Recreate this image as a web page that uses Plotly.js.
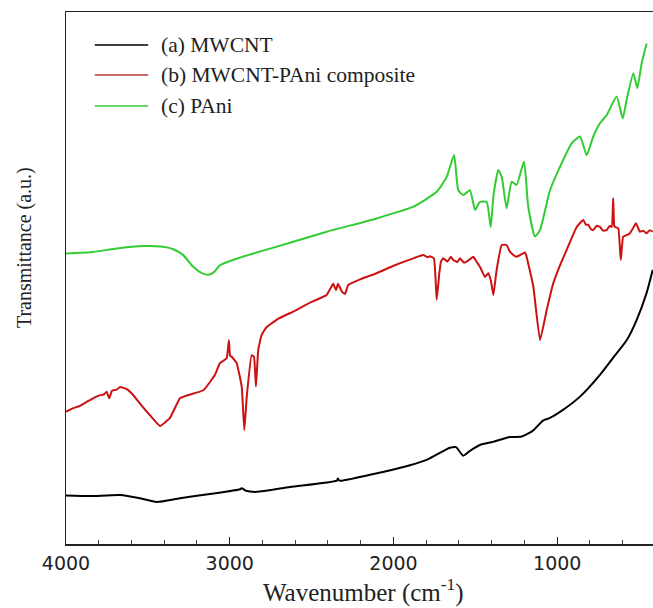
<!DOCTYPE html>
<html>
<head>
<meta charset="utf-8">
<script src="https://cdn.plot.ly/plotly-3.0.1.min.js"></script>
<style>html,body{margin:0;padding:0;background:#fff;}#chart{width:653px;height:608px;}</style>
</head>
<body>
<div id="chart"></div>
<script>
// Wavenumber (cm^-1) and transmittance (a.u.)
const mwcntX = [4000,3853,3670,3548,3446,3304,3121,2937,2927,2901,2835,2632,2347,2339,2330,2143,1899,1797,1655,1618,1574,1533,1472,1392,1289,1217,1148,1087,1044,965,861,739,659,576,515,454,417];
const mwcntY = [9.1,9.0,9.2,8.6,7.9,8.6,9.4,10.3,10.5,10.0,9.8,10.7,11.9,12.3,11.9,13.0,14.8,15.8,18.1,18.2,16.6,17.5,18.6,19.2,20.1,20.2,21.3,23.2,23.7,25.2,27.7,31.8,35.0,38.3,42.1,47.2,51.5];

const compX = [4000,3950,3920,3874,3840,3800,3770,3751,3736,3719,3690,3670,3629,3590,3548,3487,3426,3365,3304,3263,3161,3090,3060,3019,3005,2998,2988,2958,2927,2911,2896,2866,2852,2840,2826,2805,2774,2700,2612,2500,2408,2368,2351,2339,2314,2296,2276,2200,2103,2000,1879,1818,1790,1777,1753,1736,1720,1710,1696,1670,1650,1635,1610,1594,1570,1553,1530,1513,1495,1472,1441,1421,1405,1390,1370,1339,1309,1290,1278,1250,1227,1197,1187,1146,1105,1064,1024,980,942,881,841,825,810,795,780,760,739,720,698,680,667,658,652,647,627,612,597,580,556,540,519,495,475,454,435,417];
const compY = [24.9,25.6,25.9,26.7,27.3,27.9,28.1,28.6,27.4,28.8,29.0,29.5,29.1,28.0,26.4,24.2,22.2,23.7,27.4,27.9,28.9,31.8,34.0,34.9,38.3,35.4,35.2,34.0,29.6,21.4,27.7,35.5,35.2,29.6,36.5,39.3,40.8,42.4,43.7,45.5,46.8,48.9,47.7,48.9,47.4,47.0,48.7,49.8,50.9,52.3,53.7,54.3,53.9,54.1,53.7,45.9,50.9,53.1,53.7,53.1,54.0,53.4,53.0,53.7,52.9,53.1,53.6,54.0,53.2,52.1,50.2,50.9,49.5,46.8,51.5,56.2,56.2,55.0,54.6,54.0,54.3,54.8,54.0,48.4,38.3,44.0,49.0,52.6,55.3,59.6,60.9,60.0,60.0,59.2,59.0,59.8,59.6,58.9,59.0,59.8,59.6,65.0,59.8,59.6,59.3,53.4,57.8,58.0,58.4,59.2,60.3,58.7,58.9,58.4,59.0,58.7];

const paniX = [4000,3833,3700,3528,3420,3345,3284,3223,3170,3131,3096,3060,2960,2856,2612,2408,2103,1879,1736,1675,1630,1604,1574,1533,1502,1472,1431,1406,1390,1360,1339,1309,1278,1248,1203,1177,1136,1105,1044,983,912,861,820,780,739,698,637,600,576,535,511,484,454];
const paniY = [54.6,54.9,55.5,56.0,55.9,55.4,54.3,52.1,50.9,50.6,51.1,52.4,53.6,54.6,56.8,58.7,61.2,63.4,66.2,69.0,73.1,66.5,65.6,66.5,62.8,64.3,64.3,59.6,65.3,70.3,69.0,63.1,68.1,67.5,71.9,63.4,57.8,59.0,66.5,70.9,75.3,76.6,73.1,76.6,79.1,80.6,84.1,80.0,83.5,88.5,85.7,90.4,94.1];

const seriesNames = ["(a) MWCNT", "(b) MWCNT-PAni composite", "(c) PAni"];
const seriesColors = ["#000000", "#cc1111", "#33cc33"];
const tickVals = [4000, 3000, 2000, 1000];
const tickText = ["4000", "3000", "2000", "1000"];

const traces = [
  {x: mwcntX, y: mwcntY, name: seriesNames[0], type: "scatter", mode: "lines", line: {color: seriesColors[0], width: 2, shape: "spline", smoothing: 0.6}},
  {x: compX, y: compY, name: seriesNames[1], type: "scatter", mode: "lines", line: {color: seriesColors[1], width: 2, shape: "spline", smoothing: 0.35}},
  {x: paniX, y: paniY, name: seriesNames[2], type: "scatter", mode: "lines", line: {color: seriesColors[2], width: 2, shape: "spline", smoothing: 0.5}}
];

const legY = [0.938, 0.8816, 0.8233];
const shapes = [];
const annotations = [];
seriesNames.forEach((n, i) => {
  shapes.push({type: "line", xref: "paper", yref: "paper", x0: 0.049, x1: 0.140, y0: legY[i], y1: legY[i],
    line: {color: i === 1 ? "#b83a3a" : seriesColors[i], width: 1.5}});
  annotations.push({xref: "paper", yref: "paper", x: 0.158, y: legY[i], xanchor: "left", yanchor: "middle",
    showarrow: false, text: n, font: {family: "Liberation Serif, Times New Roman, serif", size: 21.5, color: "#222"}});
});
annotations.push({xref: "paper", yref: "paper", x: -0.0716, y: 0.558, xanchor: "center", yanchor: "middle",
  textangle: -90, showarrow: false, text: "Transmittance (a.u.)",
  font: {family: "Liberation Serif, Times New Roman, serif", size: 20, color: "#222"}});
annotations.push({xref: "paper", yref: "paper", x: 0.506, y: -0.087, xanchor: "center", yanchor: "middle",
  showarrow: false, text: "Wavenumber (cm<sup>-1</sup>)",
  font: {family: "Liberation Serif, Times New Roman, serif", size: 25, color: "#222"}});

const layout = {
  width: 653, height: 608,
  margin: {l: 66, r: 0, t: 12, b: 64},
  paper_bgcolor: "#fff", plot_bgcolor: "#fff",
  showlegend: false,
  xaxis: {
    range: [4000, 415], tickvals: tickVals, ticktext: tickText,
    ticks: "inside", ticklen: 7, tickwidth: 1.2, tickcolor: "#222",
    minor: {dtick: 200, tick0: 0, ticks: "inside", ticklen: 4, tickwidth: 1, tickcolor: "#444"},
    showline: true, linecolor: "#222", linewidth: 1.5, mirror: true,
    showgrid: false, zeroline: false,
    ticklabelstandoff: 2,
    tickfont: {family: "DejaVu Sans, Arial, sans-serif", size: 19, color: "#222"}
  },
  yaxis: {
    range: [0, 100], showticklabels: false, ticks: "",
    showline: true, linecolor: "#222", linewidth: 1.5, mirror: true,
    showgrid: false, zeroline: false
  },
  shapes: shapes,
  annotations: annotations
};

Plotly.newPlot("chart", traces, layout, {displayModeBar: false, staticPlot: true});
</script>
</body>
</html>
